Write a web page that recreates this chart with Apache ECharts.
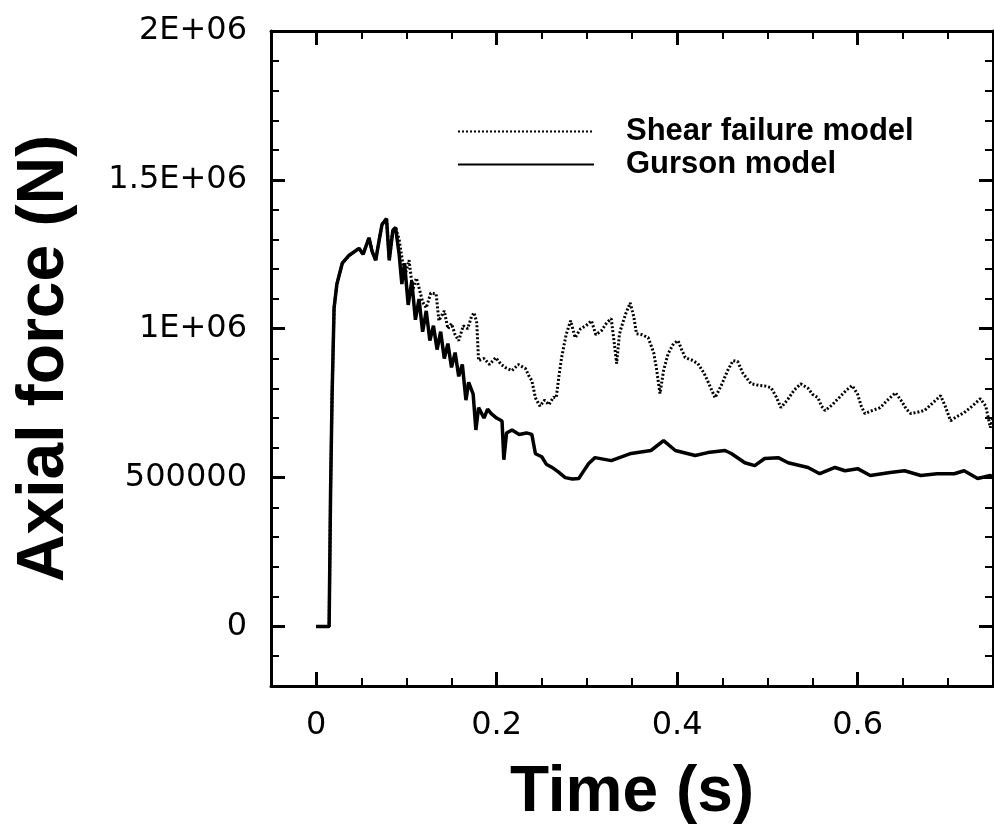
<!DOCTYPE html>
<html>
<head>
<meta charset="utf-8">
<title>Axial force vs time</title>
<script src="https://cdn.jsdelivr.net/npm/echarts@6/dist/echarts.min.js"></script>
<style>
    html, body { margin: 0; padding: 0; background: #fff; }
    #chart { width: 994px; height: 834px; }
</style>
</head>
<body>
<div id="chart"></div>
<script>
// tick labels on the axes
const xTickValues = [0, 0.2, 0.4, 0.6];
const xTickLabels = ['0', '0.2', '0.4', '0.6'];
const yTickValues = [0, 500000, 1000000, 1500000, 2000000];
const yTickLabels = ['0', '500000', '1E+06', '1.5E+06', '2E+06'];

const seriesNames = ['Shear failure model', 'Gurson model'];

// Shear failure model (dotted)
const shearTime = [
    0, 0.0144, 0.016, 0.0177, 0.0199, 0.023, 0.029, 0.036, 0.0475, 0.052, 0.0586, 0.062, 0.066, 0.070, 0.073, 0.078, 0.081, 0.085, 0.088,
    0.092, 0.096, 0.099, 0.103, 0.107, 0.111, 0.114, 0.118, 0.122, 0.127, 0.133, 0.136, 0.142, 0.146, 0.150, 0.154, 0.158, 0.163, 0.168,
    0.172, 0.175, 0.178, 0.180, 0.186, 0.192, 0.199, 0.205, 0.210, 0.217, 0.224, 0.232, 0.236, 0.239, 0.243, 0.248, 0.253, 0.258, 0.263,
    0.266, 0.269, 0.272, 0.277, 0.282, 0.287, 0.293, 0.299, 0.305, 0.310, 0.316, 0.322, 0.327, 0.330, 0.333, 0.336, 0.338, 0.343, 0.348,
    0.352, 0.355, 0.361, 0.368, 0.374, 0.377, 0.381, 0.385, 0.390, 0.396, 0.401, 0.405, 0.409, 0.416, 0.423, 0.430, 0.436, 0.442, 0.449,
    0.456, 0.462, 0.467, 0.473, 0.482, 0.490, 0.497, 0.504, 0.510, 0.515, 0.522, 0.530, 0.537, 0.545, 0.550, 0.556, 0.560, 0.564, 0.572,
    0.580, 0.588, 0.594, 0.600, 0.604, 0.608, 0.616, 0.625, 0.633, 0.642, 0.648, 0.654, 0.659, 0.667, 0.674, 0.683, 0.692, 0.697, 0.703,
    0.710, 0.718, 0.727, 0.736, 0.742, 0.747, 0.750
];
const shearForce = [
    0, 0, 450000, 780000, 1070000, 1150000, 1220000, 1245000, 1270000, 1250000, 1305000, 1260000, 1230000, 1300000, 1350000, 1370000, 1230000, 1330000, 1340000,
    1300000, 1220000, 1185000, 1230000, 1130000, 1170000, 1138000, 1090000, 1070000, 1120000, 1117000, 1027000, 1060000, 1000000, 1017000, 980000, 960000, 1010000, 1000000,
    1040000, 1054000, 1020000, 893000, 900000, 880000, 903000, 880000, 869000, 859000, 880000, 866000, 840000, 826000, 768000, 740000, 760000, 745000, 770000,
    768000, 840000, 903000, 980000, 1027000, 970000, 1000000, 1010000, 1027000, 980000, 993000, 1020000, 1034000, 960000, 883000, 980000, 1003000, 1050000, 1087000,
    1040000, 983000, 980000, 970000, 920000, 869000, 782000, 860000, 916000, 950000, 960000, 930000, 903000, 895000, 883000, 850000, 810000, 768000, 810000,
    860000, 893000, 890000, 850000, 815000, 810000, 808000, 802000, 770000, 735000, 760000, 795000, 815000, 800000, 780000, 768000, 740000, 725000, 745000,
    770000, 795000, 809000, 780000, 740000, 715000, 725000, 735000, 760000, 785000, 760000, 730000, 715000, 720000, 725000, 750000, 775000, 740000, 691000,
    705000, 718000, 740000, 765000, 740000, 668000, 700000
];

// Gurson model (solid)
const gursonTime = [
    0, 0.0144, 0.016, 0.0177, 0.0199, 0.023, 0.029, 0.036, 0.0475, 0.052, 0.0586, 0.062, 0.066, 0.070, 0.073, 0.078, 0.081, 0.085, 0.088,
    0.092, 0.095, 0.098, 0.102, 0.106, 0.110, 0.114, 0.118, 0.122, 0.126, 0.130, 0.134, 0.138, 0.142, 0.146, 0.150, 0.154, 0.158, 0.162,
    0.166, 0.169, 0.174, 0.177, 0.180, 0.186, 0.190, 0.194, 0.200, 0.206, 0.208, 0.211, 0.217, 0.225, 0.233, 0.239, 0.243, 0.250, 0.255,
    0.261, 0.268, 0.276, 0.284, 0.291, 0.296, 0.302, 0.309, 0.327, 0.349, 0.371, 0.385, 0.398, 0.420, 0.434, 0.453, 0.460, 0.475, 0.486,
    0.497, 0.512, 0.523, 0.545, 0.558, 0.575, 0.586, 0.600, 0.614, 0.636, 0.652, 0.670, 0.688, 0.707, 0.718, 0.733, 0.747, 0.750
];
const gursonForce = [
    0, 0, 450000, 780000, 1070000, 1150000, 1220000, 1245000, 1270000, 1250000, 1305000, 1260000, 1230000, 1300000, 1350000, 1370000, 1230000, 1330000, 1340000,
    1250000, 1150000, 1220000, 1080000, 1160000, 1030000, 1100000, 990000, 1060000, 960000, 1010000, 930000, 990000, 900000, 950000, 870000, 920000, 840000, 880000,
    760000, 820000, 780000, 660000, 735000, 700000, 730000, 715000, 700000, 690000, 560000, 650000, 660000, 645000, 650000, 645000, 580000, 570000, 545000,
    535000, 520000, 500000, 495000, 497000, 520000, 547000, 567000, 557000, 581000, 591000, 624000, 591000, 574000, 584000, 591000, 581000, 550000, 540000,
    564000, 567000, 550000, 534000, 513000, 534000, 523000, 530000, 507000, 517000, 523000, 507000, 513000, 513000, 523000, 497000, 507000, 500000
];

const zip = (xs, ys) => xs.map((x, i) => [x, ys[i]]);

const chart = echarts.init(document.getElementById('chart'));

const tickFont = { fontFamily: 'DejaVu Sans', fontSize: 32, color: '#000' };
const axisFrame = { show: true, onZero: false, lineStyle: { color: '#000', width: 3 } };
const titleFont = { fontFamily: 'Liberation Sans', fontWeight: 'bold', color: '#000' };

function xAxisPair(position, withLabels) {
    return [{
        type: 'value', position, min: -0.05, max: 0.75, interval: 0.05,
        axisLine: axisFrame,
        splitLine: { show: false },
        axisTick: { inside: true, length: 8, lineStyle: { color: '#000', width: 2 } },
        axisLabel: withLabels ? {
            show: true, margin: 24, ...tickFont,
            customValues: xTickValues,
            formatter: v => {
                const i = xTickValues.findIndex(t => Math.abs(t - v) < 1e-6);
                return i < 0 ? '' : xTickLabels[i];
            }
        } : { show: false },
        name: withLabels ? 'Time (s)' : '',
        nameLocation: 'middle',
        nameGap: 75,
        nameMoveOverlap: false,
        nameTextStyle: { ...titleFont, fontSize: 64 }
    }, {
        type: 'value', position, min: -0.05, max: 0.75,
        axisLine: { show: false, onZero: false },
        splitLine: { show: false },
        axisTick: { inside: true, length: 14, customValues: xTickValues, lineStyle: { color: '#000', width: 3 } },
        axisLabel: { show: false }
    }];
}

function yAxisPair(position, withLabels) {
    return [{
        type: 'value', position, min: -200000, max: 2000000, interval: 100000,
        axisLine: axisFrame,
        splitLine: { show: false },
        axisTick: { inside: true, length: 8, lineStyle: { color: '#000', width: 2 } },
        axisLabel: withLabels ? {
            show: true, margin: 24, ...tickFont,
            customValues: yTickValues,
            formatter: v => {
                const i = yTickValues.indexOf(v);
                return i < 0 ? '' : yTickLabels[i];
            }
        } : { show: false },
        name: withLabels ? 'Axial force (N)' : '',
        nameLocation: 'middle',
        nameGap: 193,
        nameMoveOverlap: false,
        nameTextStyle: { ...titleFont, fontSize: 66 }
    }, {
        type: 'value', position, min: -200000, max: 2000000,
        axisLine: { show: false, onZero: false },
        splitLine: { show: false },
        axisTick: { inside: true, length: 14, customValues: yTickValues, lineStyle: { color: '#000', width: 3 } },
        axisLabel: { show: false }
    }];
}

chart.setOption({
    backgroundColor: '#fff',
    animation: false,
    grid: { left: 271, right: 1, top: 31, bottom: 148 },
    legend: {
        orient: 'vertical',
        left: 457,
        top: 116,
        padding: 0,
        itemWidth: 136,
        itemHeight: 14,
        itemGap: 2,
        data: seriesNames,
        itemStyle: { opacity: 0 },
        textStyle: {
            ...titleFont, fontSize: 31,
            padding: [0, 0, 0, 27]
        }
    },
    xAxis: [...xAxisPair('bottom', true), ...xAxisPair('top', false)],
    yAxis: [...yAxisPair('left', true), ...yAxisPair('right', false)],
    series: [{
        name: seriesNames[0],
        type: 'line',
        symbol: 'none',
        data: zip(shearTime, shearForce),
        lineStyle: { color: '#000', width: 3, type: [2, 2] },
        itemStyle: { color: '#000' }
    }, {
        name: seriesNames[1],
        type: 'line',
        symbol: 'none',
        data: zip(gursonTime, gursonForce),
        lineStyle: { color: '#000', width: 3.5 },
        itemStyle: { color: '#000' }
    }]
});
</script>
</body>
</html>
